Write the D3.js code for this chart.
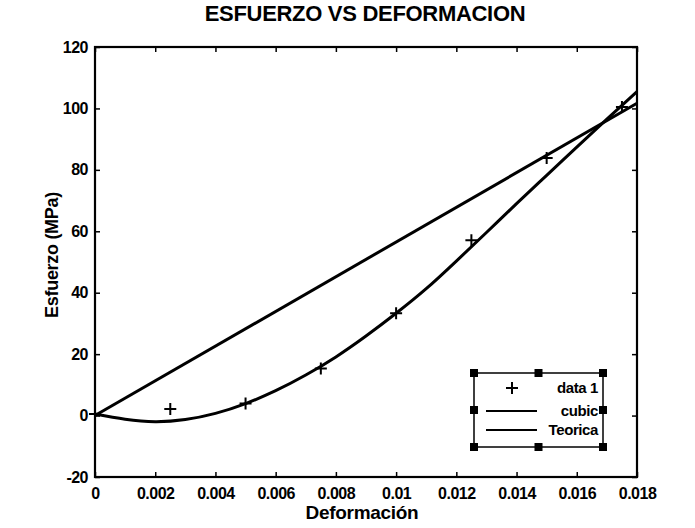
<!DOCTYPE html>
<html>
<head>
<meta charset="utf-8">
<script src="https://cdn.jsdelivr.net/npm/d3@7"></script>
<style>
  body { margin: 0; background: #fff; }
  svg { font-family: "Liberation Sans", Arial, sans-serif; }
</style>
</head>
<body>
<div class="svg-container"></div>
<script>
// measured data points (+)
var strainData = [0, 0.0025, 0.005, 0.0075, 0.01, 0.0125, 0.015, 0.0175];
var stressData = [0.5, 2.1, 3.9, 15.3, 33.3, 57.1, 83.9, 100.5];

// cubic fit curve
var cubicX = [0, 0.001, 0.002, 0.003, 0.004, 0.005, 0.006, 0.007, 0.008, 0.009,
  0.010, 0.011, 0.012, 0.013, 0.014, 0.015, 0.016, 0.017, 0.018];
var cubicY = [0.5, -1.2, -2.0, -1.3, 0.7, 3.9, 8.1, 13.2, 19.1, 25.9,
  33.3, 41.3, 50.3, 59.6, 69.0, 78.2, 87.4, 96.5, 105.5];

// theoretical line
var teoricaX = [0, 0.018];
var teoricaY = [0, 101.7];

var xTicks = [0, 0.002, 0.004, 0.006, 0.008, 0.01, 0.012, 0.014, 0.016, 0.018];
var yTicks = [-20, 0, 20, 40, 60, 80, 100, 120];

var width = 695, height = 528;
var margin = {left: 95, right: 58, top: 47, bottom: 51};

var svg = d3.select(".svg-container").append("svg")
  .attr("width", width).attr("height", height);

var x = d3.scaleLinear().domain([0, 0.018]).range([margin.left, width - margin.right]);
var y = d3.scaleLinear().domain([-20, 120]).range([height - margin.bottom, margin.top]);

var tickFmt = d => d === 0 ? "0" : String(+d.toFixed(3));

// axes with inward ticks on all four sides
var axisB = svg.append("g").attr("transform", "translate(0," + y(-20) + ")")
  .call(d3.axisBottom(x).tickValues(xTicks).tickSize(-5).tickPadding(11).tickFormat(tickFmt));
var axisT = svg.append("g").attr("transform", "translate(0," + y(120) + ")")
  .call(d3.axisTop(x).tickValues(xTicks).tickSize(-5).tickFormat(""));
var axisL = svg.append("g").attr("transform", "translate(" + x(0) + ",0)")
  .call(d3.axisLeft(y).tickValues(yTicks).tickSize(-5).tickPadding(7).tickFormat(tickFmt));
var axisR = svg.append("g").attr("transform", "translate(" + x(0.018) + ",0)")
  .call(d3.axisRight(y).tickValues(yTicks).tickSize(-5).tickFormat(""));

[axisB, axisT, axisL, axisR].forEach(a => {
  a.select(".domain").remove();
  a.selectAll("line").attr("stroke", "#000").attr("stroke-width", 1.5);
  a.selectAll("text").attr("fill", "#000").attr("font-size", 16).attr("font-weight", "bold")
    .attr("letter-spacing", -0.5);
});

// box
svg.append("rect")
  .attr("x", x(0)).attr("y", y(120))
  .attr("width", x(0.018) - x(0)).attr("height", y(-20) - y(120))
  .attr("fill", "none").attr("stroke", "#000").attr("stroke-width", 2.2);

var line = d3.line().x(d => x(d[0])).y(d => y(d[1]));

svg.append("path")
  .datum(teoricaX.map((v, i) => [v, teoricaY[i]]))
  .attr("d", line)
  .attr("fill", "none").attr("stroke", "#000").attr("stroke-width", 3);

svg.append("path")
  .datum(cubicX.map((v, i) => [v, cubicY[i]]))
  .attr("d", line.curve(d3.curveNatural))
  .attr("fill", "none").attr("stroke", "#000").attr("stroke-width", 3);

// plus markers
svg.selectAll(".pt").data(strainData).enter().append("path")
  .attr("class", "pt")
  .attr("transform", (d, i) => "translate(" + x(d) + "," + y(stressData[i]) + ")")
  .attr("d", "M-6,0H6M0,-6V6")
  .attr("stroke", "#000").attr("stroke-width", 2);

// title and labels
svg.append("text").attr("x", 365).attr("y", 21).attr("text-anchor", "middle")
  .attr("font-size", 22).attr("font-weight", "bold").attr("letter-spacing", -0.3)
  .text("ESFUERZO VS DEFORMACION");
svg.append("text").attr("x", 362).attr("y", 519).attr("text-anchor", "middle")
  .attr("font-size", 19).attr("font-weight", "bold").attr("letter-spacing", -0.3)
  .text("Deformación");
svg.append("text").attr("transform", "translate(58,255) rotate(-90)").attr("text-anchor", "middle")
  .attr("font-size", 18).attr("font-weight", "bold").attr("letter-spacing", -0.3)
  .text("Esfuerzo (MPa)");

// legend (with edit handles)
var lg = {x0: 474, x1: 603, y0: 373, y1: 447};
var legend = svg.append("g");
legend.append("rect")
  .attr("x", lg.x0).attr("y", lg.y0).attr("width", lg.x1 - lg.x0).attr("height", lg.y1 - lg.y0)
  .attr("fill", "#fff").attr("stroke", "#000").attr("stroke-width", 1.5);

var entries = ["data 1", "cubic", "Teorica"];
var entryY = [388, 411, 430];
legend.selectAll("text").data(entries).enter().append("text")
  .attr("x", 598).attr("y", (d, i) => entryY[i] + 5)
  .attr("text-anchor", "end").attr("font-size", 15).attr("font-weight", "bold")
  .attr("letter-spacing", -0.4)
  .text(d => d);
legend.append("path").attr("transform", "translate(512," + entryY[0] + ")")
  .attr("d", "M-6,0H6M0,-6V6").attr("stroke", "#000").attr("stroke-width", 2);
[1, 2].forEach(i => {
  legend.append("line").attr("x1", 486).attr("x2", 537)
    .attr("y1", entryY[i]).attr("y2", entryY[i])
    .attr("stroke", "#000").attr("stroke-width", 2.2);
});

var mx = (lg.x0 + lg.x1) / 2, my = (lg.y0 + lg.y1) / 2;
var handles = [[lg.x0, lg.y0], [mx, lg.y0], [lg.x1, lg.y0], [lg.x0, my], [lg.x1, my],
  [lg.x0, lg.y1], [mx, lg.y1], [lg.x1, lg.y1]];
legend.selectAll(".h").data(handles).enter().append("rect")
  .attr("x", d => d[0] - 4).attr("y", d => d[1] - 4)
  .attr("width", 8).attr("height", 8).attr("fill", "#000");
</script>
</body>
</html>
